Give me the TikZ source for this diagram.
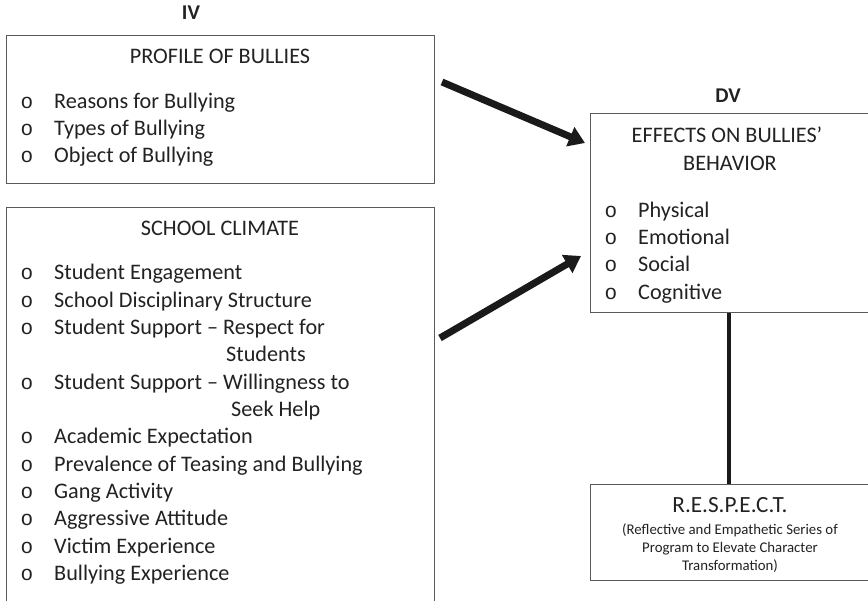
\documentclass[tikz,border=0pt]{standalone}
\usepackage{fontspec}
\setmainfont{Carlito}
\newfontfamily\bulletfont{Liberation Mono}
\usetikzlibrary{arrows.meta}
\definecolor{framegray}{HTML}{5A5A5A}
\definecolor{inkblack}{HTML}{1A1A1A}
\definecolor{textgray}{HTML}{222222}
\begin{document}
\begin{tikzpicture}[x=1pt,y=-1pt,
  every node/.style={text=textgray},
  box/.style={draw=framegray, line width=1.2pt, anchor=north west, inner sep=0pt},
  head/.style={anchor=base, inner sep=0pt, font=\fontsize{22.2}{26}\selectfont},
  label/.style={anchor=base, inner sep=0pt, font=\fontsize{21}{25}\selectfont\bfseries},
  item/.style={anchor=base west, inner sep=0pt, font=\fontsize{22.2}{26}\selectfont},
  bul/.style={anchor=base, inner sep=0pt, font=\fontsize{21}{24}\bulletfont},
  small/.style={anchor=base, inner sep=0pt, font=\fontsize{14.8}{18}\selectfont},
  thickarrow/.style={draw=inkblack, line width=7pt, -{Triangle[length=16pt,width=20pt]}},
  link/.style={draw=inkblack, line width=4pt}]
\fill[white] (0,0) rectangle (868,601);
\useasboundingbox (0,0) rectangle (868,601);

% variable group labels
\node[label] (iv) at (191,20) {IV};
\node[label] (dv) at (728,103) {DV};

% independent variable: profile of bullies
\node[box, minimum width=428pt, minimum height=148pt] (profile) at (6,35) {};
\node[head] (profileT) at (220,64) {PROFILE OF BULLIES};
\foreach \t [count=\i] in {Reasons for Bullying, Types of Bullying, Object of Bullying} {
  \node[bul] (pb\i) at (27,81+27.3*\i) {o};
  \node[item] (pi\i) at (54,81+27.3*\i) {\t};
}

% independent variable: school climate (box continues below the page)
\node[box, minimum width=428pt, minimum height=410pt] (climate) at (6,207) {};
\node[head] (climateT) at (220,236) {SCHOOL CLIMATE};
\foreach \t/\r [count=\i] in {Student Engagement/0, School Disciplinary Structure/1,
    Student Support – Respect for/2, Student Support – Willingness to/4,
    Academic Expectation/6, Prevalence of Teasing and Bullying/7, Gang Activity/8,
    Aggressive Attitude/9, Victim Experience/10, Bullying Experience/11} {
  \node[bul] (cb\i) at (27,280+27.3*\r) {o};
  \node[item] (ci\i) at (54,280+27.3*\r) {\t};
}
\node[item] (ci3b) at (226,280+27.3*3) {Students};
\node[item] (ci4b) at (231,280+27.3*5) {Seek Help};

% dependent variable: effects on bullies' behavior
\node[box, minimum width=300pt, minimum height=199pt] (effects) at (590,113) {};
\node[head] (effectsT1) at (727,143) {EFFECTS ON BULLIES’};
\node[head] (effectsT2) at (730,171) {BEHAVIOR};
\foreach \t [count=\i] in {Physical, Emotional, Social, Cognitive} {
  \node[bul] (eb\i) at (611,190+27.3*\i) {o};
  \node[item] (ei\i) at (638,190+27.3*\i) {\t};
}

% intervention program
\node[box, minimum width=300pt, minimum height=96pt] (respect) at (590,484) {};
\node[anchor=base, inner sep=0pt, font=\fontsize{23.2}{27}\selectfont] (respectT) at (730,513) {R.E.S.P.E.C.T.};
\node[small] (respectL1) at (730,534) {(Reflective and Empathetic Series of};
\node[small] (respectL2) at (730,552) {Program to Elevate Character};
\node[small] (respectL3) at (730,570) {Transformation)};

% connectors
\coordinate (a1s) at (442,82);
\coordinate (a1e) at (585,143);
\coordinate (a2s) at (440,338);
\coordinate (a2e) at (581,256);
\draw[thickarrow] (a1s) -- (a1e);
\draw[thickarrow] (a2s) -- (a2e);
\draw[link] (effects.south -| 729,0) -- (respect.north -| 729,0);
\end{tikzpicture}
\end{document}
